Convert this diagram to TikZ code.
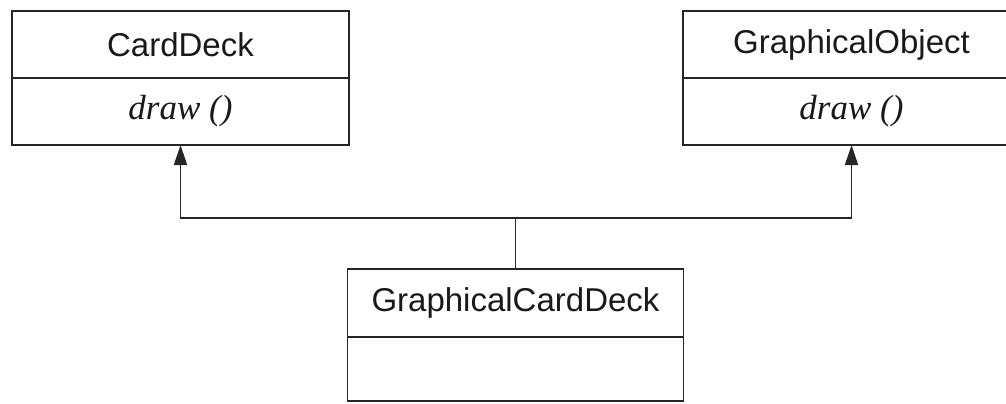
\documentclass[tikz,border=0pt]{standalone}
\usepackage{fontspec}
\newfontfamily\umlsans{Liberation Sans}
\newfontfamily\umlserif{Liberation Serif}
\usetikzlibrary{arrows.meta,positioning}

\begin{document}
\begin{tikzpicture}[
  x=1pt,y=-1pt,
  node distance=0pt,
  classhead/.style={draw,line width=1.6pt,black!85,text=black!90,minimum width=337pt,minimum height=67pt,inner sep=0pt,outer sep=0pt,font=\umlsans\fontsize{33}{40}\selectfont},
  classbody/.style={draw,line width=1.6pt,black!85,text=black!90,minimum width=337pt,minimum height=67pt,inner sep=0pt,outer sep=0pt,font=\umlserif\itshape\fontsize{35}{42}\selectfont},
  gen/.style={-{Triangle[length=20pt,width=13pt]},line width=1.4pt,black!85}
]
\useasboundingbox (0,0) rectangle (1006,404);
\node[classhead] (deckhead) at (180.5,44.5) {CardDeck};
\node[classbody,below=of deckhead] (deckbody) {draw ()};
\node[classhead] (objhead) at (851.5,44.5) {GraphicalObject};
\node[classbody,below=of objhead] (objbody) {draw ()};
\node[classhead,minimum width=336pt,minimum height=68pt] (gcdhead) at (515.5,303) {GraphicalCardDeck};
\node[classbody,minimum width=336pt,minimum height=64pt,below=of gcdhead] (gcdbody) {};
\path (gcdhead.north) ++(0,-51) coordinate (fork);
\draw[line width=1.4pt,black!85] (gcdhead.north) -- (fork);
\draw[gen] (fork) -| (deckbody.south);
\draw[gen] (fork) -| (objbody.south);
\end{tikzpicture}
\end{document}
